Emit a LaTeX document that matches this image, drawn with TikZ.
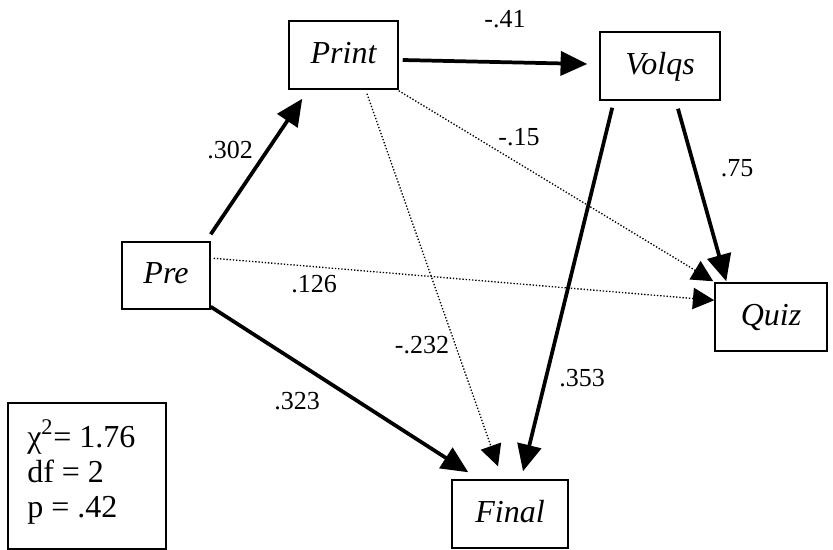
\documentclass[tikz,border=0pt]{standalone}
\usepackage{fontspec}
\setmainfont{Liberation Serif}
\usetikzlibrary{arrows.meta,calc}
\begin{document}
\begin{tikzpicture}[x=0.75pt,y=-0.75pt,
  box/.style={draw, line width=1.1pt, inner sep=0pt,
    font=\fontsize{24}{29}\selectfont\itshape,
    text height=16.8pt, text depth=4.8pt, minimum height=51pt},
  lbl/.style={font=\fontsize{19.5}{23}\selectfont, inner sep=0pt},
  stat/.style={font=\fontsize{24}{28}\selectfont, inner sep=0pt, anchor=base west},
  strong/.style={line width=2.8pt, -{Triangle[length=20pt,width=18pt]}},
  weak/.style={line width=1pt, dash pattern=on 1pt off 1.4pt, -{Triangle[length=16pt,width=16pt]}}
]
\useasboundingbox (0,0) rectangle (833,550);
\fill[white] (0,0) rectangle (833,550);

% boxes
\node[box, minimum width=81.75pt] (print) at (343.5,55) {Print};
\node[box, minimum width=90pt] (volqs) at (660,66) {Volqs};
\node[box, minimum width=66pt, minimum height=50.25pt] (pre) at (166,275.5) {Pre};
\node[box, minimum width=84pt] (quiz) at (771,317) {Quiz};
\node[box, minimum width=87pt] (final) at (510,514) {Final};
\node[draw, line width=1.1pt, minimum width=118.5pt, minimum height=109.5pt] (stats) at (87,476) {};

% stats text
\node[stat] (chi) at (27,447) {χ\textsuperscript{2}= 1.76};
\node[stat] (df) at (27,482) {df = 2};
\node[stat] (pv) at (27,517) {p = .42};

% strong paths
\draw[strong] ($(pre.north east)+(0,-7)$) -- ($(print.south west)+(14,9)$);
\draw[strong] ($(print.east)+(4,5)$) -- ($(volqs.west)+(-12,-2)$);
\draw[strong] ($(volqs.south west)+(13,7)$) -- ($(final.north)+(13,-8)$);
\draw[strong] ($(volqs.south)+(18,8)$) -- ($(quiz.north west)+(12,-1)$);
\draw[strong] ($(pre.south east)+(0,-3)$) -- ($(final.north west)+(17,-7)$);

% weak paths
\draw[weak] ($(print.south east)+(0,1)$) -- ($(quiz.north west)+(-1,-1)$);
\draw[weak] ($(print.south)+(23.5,4)$) -- ($(final.north)+(-12,-13)$);
\draw[weak] ($(pre.north east)+(3,17)$) -- ($(quiz.north west)+(0,18)$);

% labels
\node[lbl] (l1) at (505,19) {-.41};
\node[lbl] (l2) at (519,137) {-.15};
\node[lbl] (l3) at (230,150) {.302};
\node[lbl] (l4) at (737,168.5) {.75};
\node[lbl] (l5) at (314,284) {.126};
\node[lbl] (l6) at (422,345) {-.232};
\node[lbl] (l7) at (582,378.5) {.353};
\node[lbl] (l8) at (297,401.5) {.323};
\end{tikzpicture}
\end{document}
